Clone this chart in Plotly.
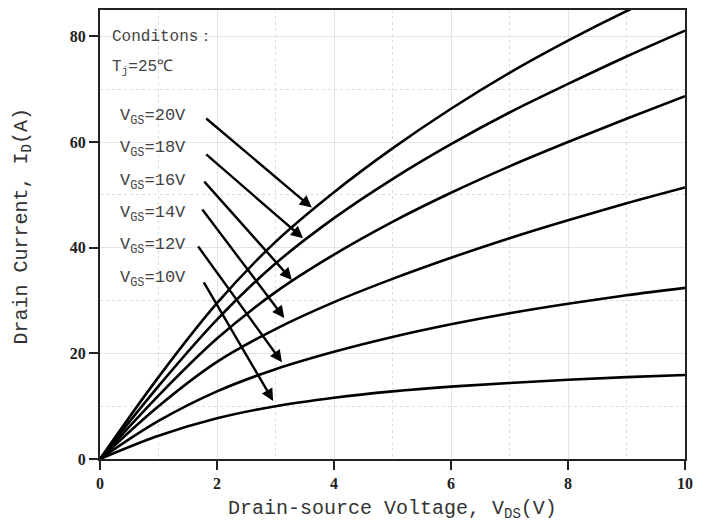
import plotly.graph_objects as go

# данные
vds = [0, 1, 2, 3, 4, 5, 6, 7, 8, 9, 10]
id_20v = [0, 15.5, 29.5, 41.1, 50.5, 58.8, 66.3, 73.1, 79.2, 84.8, 89.9]
id_18v = [0, 13.8, 26.4, 37.0, 45.6, 53.0, 59.6, 65.6, 71.0, 76.2, 81.1]
id_16v = [0, 12.0, 22.8, 31.6, 38.7, 44.9, 50.4, 55.4, 60.0, 64.4, 68.7]
id_14v = [0, 10.0, 18.4, 24.6, 29.7, 34.1, 38.1, 41.8, 45.2, 48.4, 51.4]
id_12v = [0, 7.2, 12.8, 17.0, 20.3, 23.1, 25.5, 27.6, 29.4, 31.0, 32.4]
id_10v = [0, 4.4, 7.7, 10.0, 11.6, 12.8, 13.7, 14.4, 15.0, 15.5, 15.9]

curves = [id_20v, id_18v, id_16v, id_14v, id_12v, id_10v]
vgs_labels = ['20V', '18V', '16V', '14V', '12V', '10V']

# подписи: y текста, начало и конец стрелки
label_x = 0.3
label_y = [64.8, 58.6, 52.5, 46.4, 40.3, 34.0]
arrow_from = [(1.79, 64.7), (1.79, 57.9), (1.76, 52.8), (1.73, 47.5), (1.66, 40.5), (1.76, 33.7)]
arrow_to = [(3.62, 47.6), (3.47, 41.8), (3.28, 33.9), (3.15, 26.7), (3.11, 18.3), (2.96, 11.0)]

fig = go.Figure()

for ys in curves:
    fig.add_trace(go.Scatter(
        x=vds, y=ys, mode='lines',
        line=dict(color='black', width=2.6, shape='spline', smoothing=1.0),
        hoverinfo='skip', showlegend=False
    ))

txt_font = dict(family='Liberation Mono', size=17, color='#444')
title_font = dict(family='Liberation Mono', size=20, color='#333')

annotations = [
    dict(x=0.17, y=79.8, xref='x', yref='y', text='Conditons：', showarrow=False,
         xanchor='left', yanchor='middle', font=dict(txt_font, size=16)),
    dict(x=0.17, y=74.2, xref='x', yref='y', text='T<sub>j</sub>=25℃', showarrow=False,
         xanchor='left', yanchor='middle', font=dict(txt_font, size=16)),
    # подписи осей
    dict(x=0.5, y=0, xref='paper', yref='paper', text='Drain-source Voltage, V<sub>DS</sub>(V)',
         showarrow=False, xanchor='center', yanchor='middle', yshift=-50, font=title_font),
    dict(x=0, y=0.5, xref='paper', yref='paper', text='Drain Current, I<sub>D</sub>(A)',
         showarrow=False, xanchor='center', yanchor='middle', xshift=-78, yshift=8,
         textangle=-90, font=title_font),
]
for lab, ly in zip(vgs_labels, label_y):
    annotations.append(dict(x=label_x, y=ly, xref='x', yref='y',
                            text='V<sub>GS</sub>=' + lab, showarrow=False,
                            xanchor='left', yanchor='middle', font=txt_font))
for (x0, y0), (x1, y1) in zip(arrow_from, arrow_to):
    annotations.append(dict(x=x1, y=y1, ax=x0, ay=y0, xref='x', yref='y',
                            axref='x', ayref='y', text='', showarrow=True,
                            arrowhead=2, arrowsize=1.0, arrowwidth=2.4,
                            arrowcolor='black', standoff=0))

axis_common = dict(
    showline=True, linecolor='#222', linewidth=2, mirror=True,
    ticks='outside', ticklen=9, tickwidth=2, tickcolor='#222',
    showgrid=True, gridcolor='#e4e4e4', gridwidth=1, zeroline=False,
    tickfont=dict(family='Liberation Serif', size=16, color='#222', weight='bold'),
    automargin=False,
)

# страница имеет отступ 8px, поэтому размер фигуры чуть меньше окна
fig.update_layout(
    width=699, height=516,
    margin=dict(l=92, r=22, t=2, b=65),
    plot_bgcolor='white', paper_bgcolor='white',
    annotations=annotations,
    xaxis=dict(axis_common, range=[0, 10], tick0=0, dtick=2,
               minor=dict(dtick=1, showgrid=True, gridcolor='#dcdcdc', griddash='dot')),
    yaxis=dict(axis_common, range=[0, 85], tick0=0, dtick=20,
               minor=dict(dtick=10, showgrid=True, gridcolor='#dcdcdc', griddash='dot')),
)

fig.write_html("out.html")
